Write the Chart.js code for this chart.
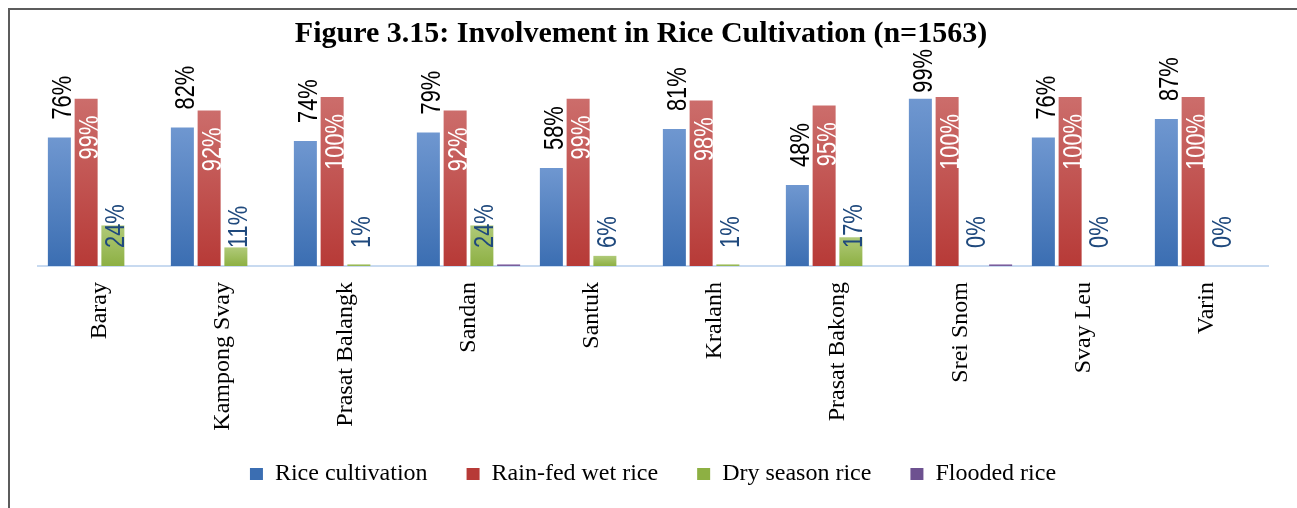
<!DOCTYPE html>
<html>
<head>
<meta charset="utf-8">
<script src="https://cdn.jsdelivr.net/npm/chart.js@4/dist/chart.umd.min.js"></script>
<style>
  html, body { margin: 0; padding: 0; background: #fff; overflow: hidden; }
  #frame { position: absolute; left: 8px; top: 8px; width: 1400px; height: 700px;
           border-left: 2px solid #5c5c5c; border-top: 2px solid #5c5c5c; }
  #wrap { position: absolute; left: 0; top: 0; width: 1297px; height: 508px; }
</style>
</head>
<body>
<div id="frame"></div>
<div id="wrap"><canvas id="riceChart" width="1297" height="508"></canvas></div>
<script>
const districts = ['Baray', 'Kampong Svay', 'Prasat Balangk', 'Sandan', 'Santuk',
                   'Kralanh', 'Prasat Bakong', 'Srei Snom', 'Svay Leu', 'Varin'];
const riceCultivation = [76, 82, 74, 79, 58, 81, 48, 99, 76, 87];
const rainFedWetRice  = [99, 92, 100, 92, 99, 98, 95, 100, 100, 100];
const drySeasonRice   = [24, 11, 1, 24, 6, 1, 17, 0, 0, 0];
const floodedRice     = [0, 0, 0, 1, 0, 0, 0, 1, 0, 0];
const seriesNames = ['Rice cultivation', 'Rain-fed wet rice', 'Dry season rice', 'Flooded rice'];

// top / bottom colour of each bar gradient
const shades = [
    ['#6f97d0', '#3b6eb2'],
    ['#cc6d6b', '#b73a37'],
    ['#b0ca79', '#8db043'],
    ['#977eb6', '#6d5190']
];

function barGradient(k) {
    return function(context) {
        const chart = context.chart;
        const top = shades[k][0], bottom = shades[k][1];
        if (!chart.chartArea || context.type !== 'data' || !chart.scales.y) return bottom;
        const yTop = chart.scales.y.getPixelForValue(context.parsed.y);
        const yBase = chart.scales.y.getPixelForValue(0);
        if (!(yBase - yTop > 1)) return bottom;
        const g = chart.ctx.createLinearGradient(0, yTop, 0, yBase);
        g.addColorStop(0, top);
        g.addColorStop(1, bottom);
        return g;
    };
}

// value labels, rotated, drawn like the Excel original
const valueLabels = {
    id: 'valueLabels',
    afterDatasetsDraw(chart) {
        const ctx = chart.ctx;
        const plotTop = 49;
        const squeeze = 0.78;
        ctx.save();
        ctx.font = '28px "Liberation Sans", Arial, sans-serif';
        ctx.textBaseline = 'alphabetic';
        [0, 1, 2].forEach(function(d) {
            const meta = chart.getDatasetMeta(d);
            const values = chart.data.datasets[d].data;
            meta.data.forEach(function(bar, i) {
                const txt = values[i] + '%';
                const len = ctx.measureText(txt).width * squeeze;
                let y, align, color;
                if (d === 0) {
                    y = bar.y - 18;
                    if (y - len < plotTop) y = plotTop + len;
                    align = 'left'; color = '#000';
                } else if (d === 1) {
                    y = bar.y + 17;
                    align = 'right'; color = '#fff';
                } else {
                    y = bar.base - 18;
                    align = 'left'; color = '#1f497d';
                }
                ctx.save();
                ctx.translate(bar.x + 1.5 + 10, y);
                ctx.rotate(-Math.PI / 2);
                ctx.scale(squeeze, 1);
                ctx.textAlign = align;
                ctx.fillStyle = color;
                ctx.fillText(txt, 0, 0);
                ctx.restore();
            });
        });
        ctx.restore();
    }
};

const ctx = document.getElementById('riceChart').getContext('2d');
const riceChart = new Chart(ctx, {
    type: 'bar',
    data: {
        labels: districts,
        datasets: [riceCultivation, rainFedWetRice, drySeasonRice, floodedRice].map(function(vals, k) {
            return {
                label: seriesNames[k],
                data: vals,
                backgroundColor: barGradient(k),
                borderWidth: 0,
                categoryPercentage: 0.87,
                barPercentage: 0.86
            };
        })
    },
    options: {
        responsive: false,
        animation: false,
        devicePixelRatio: 1,
        layout: { padding: { left: 14, right: 29, top: 0, bottom: 12 } },
        plugins: {
            title: {
                display: true,
                text: 'Figure 3.15: Involvement in Rice Cultivation (n=1563)',
                color: '#000',
                font: { family: '"Liberation Serif", "Times New Roman", serif', size: 30, weight: 'bold' },
                padding: { top: 16.5, bottom: 44.5 }
            },
            legend: {
                position: 'bottom',
                fullSize: false,
                labels: {
                    color: '#000',
                    font: { family: '"Liberation Serif", "Times New Roman", serif', size: 24 },
                    boxWidth: 13,
                    boxHeight: 12,
                    padding: 27,
                    generateLabels: function(chart) {
                        const n = chart.data.datasets.length;
                        return chart.data.datasets.map(function(ds, k) {
                            return {
                                // trailing spaces widen the gap between items
                                text: k < n - 1 ? ds.label + '  ' : ds.label,
                                fillStyle: shades[k][1],
                                strokeStyle: shades[k][1],
                                lineWidth: 0,
                                datasetIndex: k,
                                hidden: false
                            };
                        });
                    }
                }
            },
            tooltip: { enabled: false }
        },
        scales: {
            x: {
                grid: { display: false },
                border: { display: true, color: '#c8daf0', width: 2 },
                ticks: {
                    color: '#000',
                    font: { family: '"Liberation Serif", "Times New Roman", serif', size: 24 },
                    minRotation: 90,
                    maxRotation: 90,
                    autoSkip: false,
                    padding: 8
                },
                afterFit: function(axis) { axis.height = 169; }
            },
            y: {
                min: 0,
                max: 100,
                grid: { display: false },
                border: { display: false },
                ticks: { display: false },
                afterFit: function(axis) { axis.width = 24; }
            }
        }
    },
    plugins: [valueLabels]
});
</script>
</body>
</html>
